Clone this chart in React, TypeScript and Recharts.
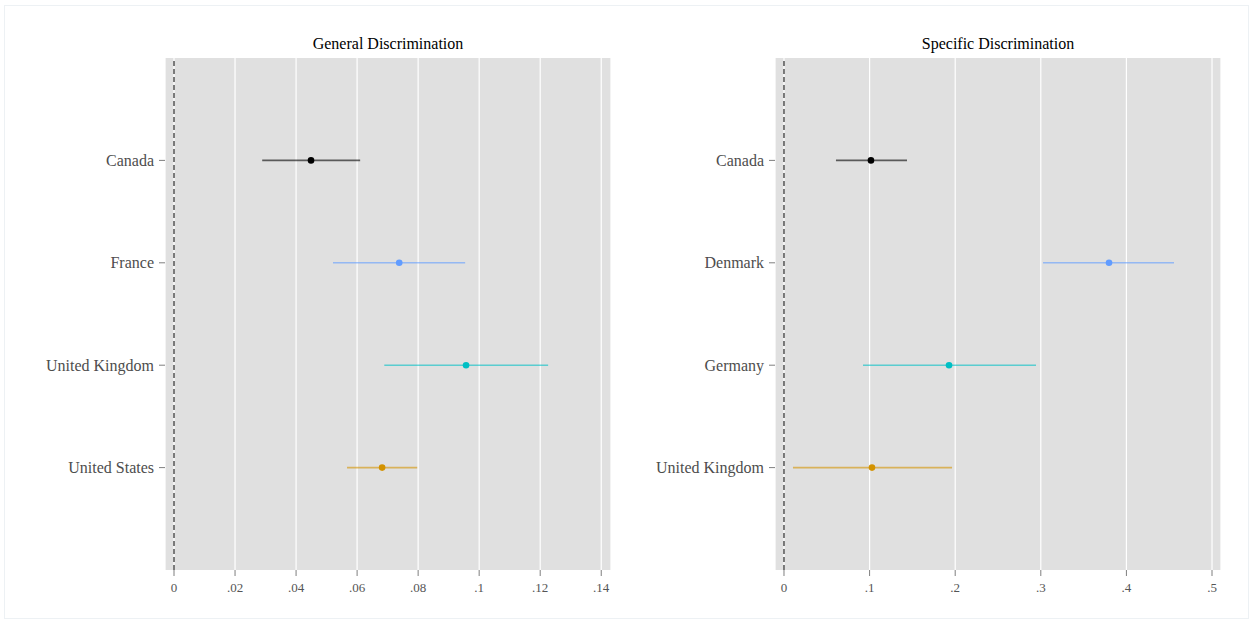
import { ScatterChart, Scatter, XAxis, YAxis, CartesianGrid, ReferenceLine } from 'recharts'

const COLORS = ['#000000', '#619CFF', '#00BFC4', '#D39200']

// General Discrimination
const genCountries = ['Canada', 'France', 'United Kingdom', 'United States']
const genEst = [0.0449, 0.0738, 0.0957, 0.0682]
const genLow = [0.0289, 0.0521, 0.0689, 0.0567]
const genHigh = [0.061, 0.0954, 0.1226, 0.0797]
const genTicks = [0, 0.02, 0.04, 0.06, 0.08, 0.1, 0.12, 0.14]

// Specific Discrimination
const specCountries = ['Canada', 'Denmark', 'Germany', 'United Kingdom']
const specEst = [0.1016, 0.3797, 0.1928, 0.1028]
const specLow = [0.0607, 0.3026, 0.0923, 0.0105]
const specHigh = [0.1437, 0.4556, 0.2944, 0.1963]
const specTicks = [0, 0.1, 0.2, 0.3, 0.4, 0.5]

const FONT = '"Liberation Serif", "Times New Roman", serif'

const fmt = (v: number) => (v === 0 ? '0' : String(v).replace(/^0/, ''))

const Empty = () => <g />

interface PanelProps {
  title: string
  countries: string[]
  est: number[]
  low: number[]
  high: number[]
  ticks: number[]
  domain: [number, number]
  yWidth: number
  rightMargin: number
}

function Panel({ title, countries, est, low, high, ticks, domain, yWidth, rightMargin }: PanelProps) {
  const W = 627
  const plotLeft = yWidth
  const plotRight = W - rightMargin
  return (
    <div style={{ position: 'relative', width: W, height: 624 }}>
      <div style={{
        position: 'absolute', top: 35, left: plotLeft, width: plotRight - plotLeft,
        textAlign: 'center', fontFamily: FONT, fontSize: 16, color: '#000', lineHeight: '18px'
      }}>{title}</div>
      <ScatterChart width={W} height={624} margin={{ top: 58, right: rightMargin, left: 0, bottom: 0 }}>
        <CartesianGrid fill="#E0E0E0" stroke="#FFFFFF" strokeWidth={1.2} horizontal={false} />
        <XAxis type="number" dataKey="x" domain={domain} ticks={ticks} allowDataOverflow
          tickFormatter={fmt} height={54} axisLine={false} tickSize={6} tickMargin={7}
          tickLine={{ stroke: '#7F7F7F' }}
          tick={{ fontSize: 13, fill: '#555555', fontFamily: FONT }} />
        <YAxis type="number" dataKey="y" domain={[0, 5]} ticks={[1, 2, 3, 4]} reversed
          tickFormatter={(v: number) => countries[v - 1] ?? ''} width={yWidth}
          axisLine={false} tickSize={6} tickMargin={5} tickLine={{ stroke: '#7F7F7F' }}
          tick={{ fontSize: 16, fill: '#4D4D4D', fontFamily: FONT }} />
        <ReferenceLine x={0} stroke="#000" strokeDasharray="5 3" strokeWidth={1} />
        {countries.map((c, i) => (
          <Scatter key={'ci' + c} data={[{ x: low[i], y: i + 1 }, { x: high[i], y: i + 1 }]}
            line={{ stroke: COLORS[i], strokeWidth: 1.6, strokeOpacity: 0.6 }}
            shape={Empty} isAnimationActive={false} />
        ))}
        {countries.map((c, i) => (
          <Scatter key={'pt' + c} data={[{ x: est[i], y: i + 1 }]} fill={COLORS[i]}
            shape={(p: any) => <circle cx={p.cx} cy={p.cy} r={3.3} fill={COLORS[i]} />}
            isAnimationActive={false} />
        ))}
      </ScatterChart>
    </div>
  )
}

export default function App() {
  return (
    <div style={{ position: 'absolute', left: 0, top: 0, width: 1254, height: 624, background: '#fff' }}>
      <div style={{
        position: 'absolute', left: 4, top: 5, width: 1245, height: 614,
        border: '1px solid #EDF1F4', boxSizing: 'border-box'
      }} />
      <div style={{ position: 'absolute', left: 0, top: 0, display: 'flex' }}>
        <Panel title="General Discrimination" countries={genCountries} est={genEst} low={genLow}
          high={genHigh} ticks={genTicks} domain={[-0.00295, 0.1432]} yWidth={165} rightMargin={16} />
        <Panel title="Specific Discrimination" countries={specCountries} est={specEst} low={specLow}
          high={specHigh} ticks={specTicks} domain={[-0.0105, 0.5105]} yWidth={148} rightMargin={33} />
      </div>
    </div>
  )
}
